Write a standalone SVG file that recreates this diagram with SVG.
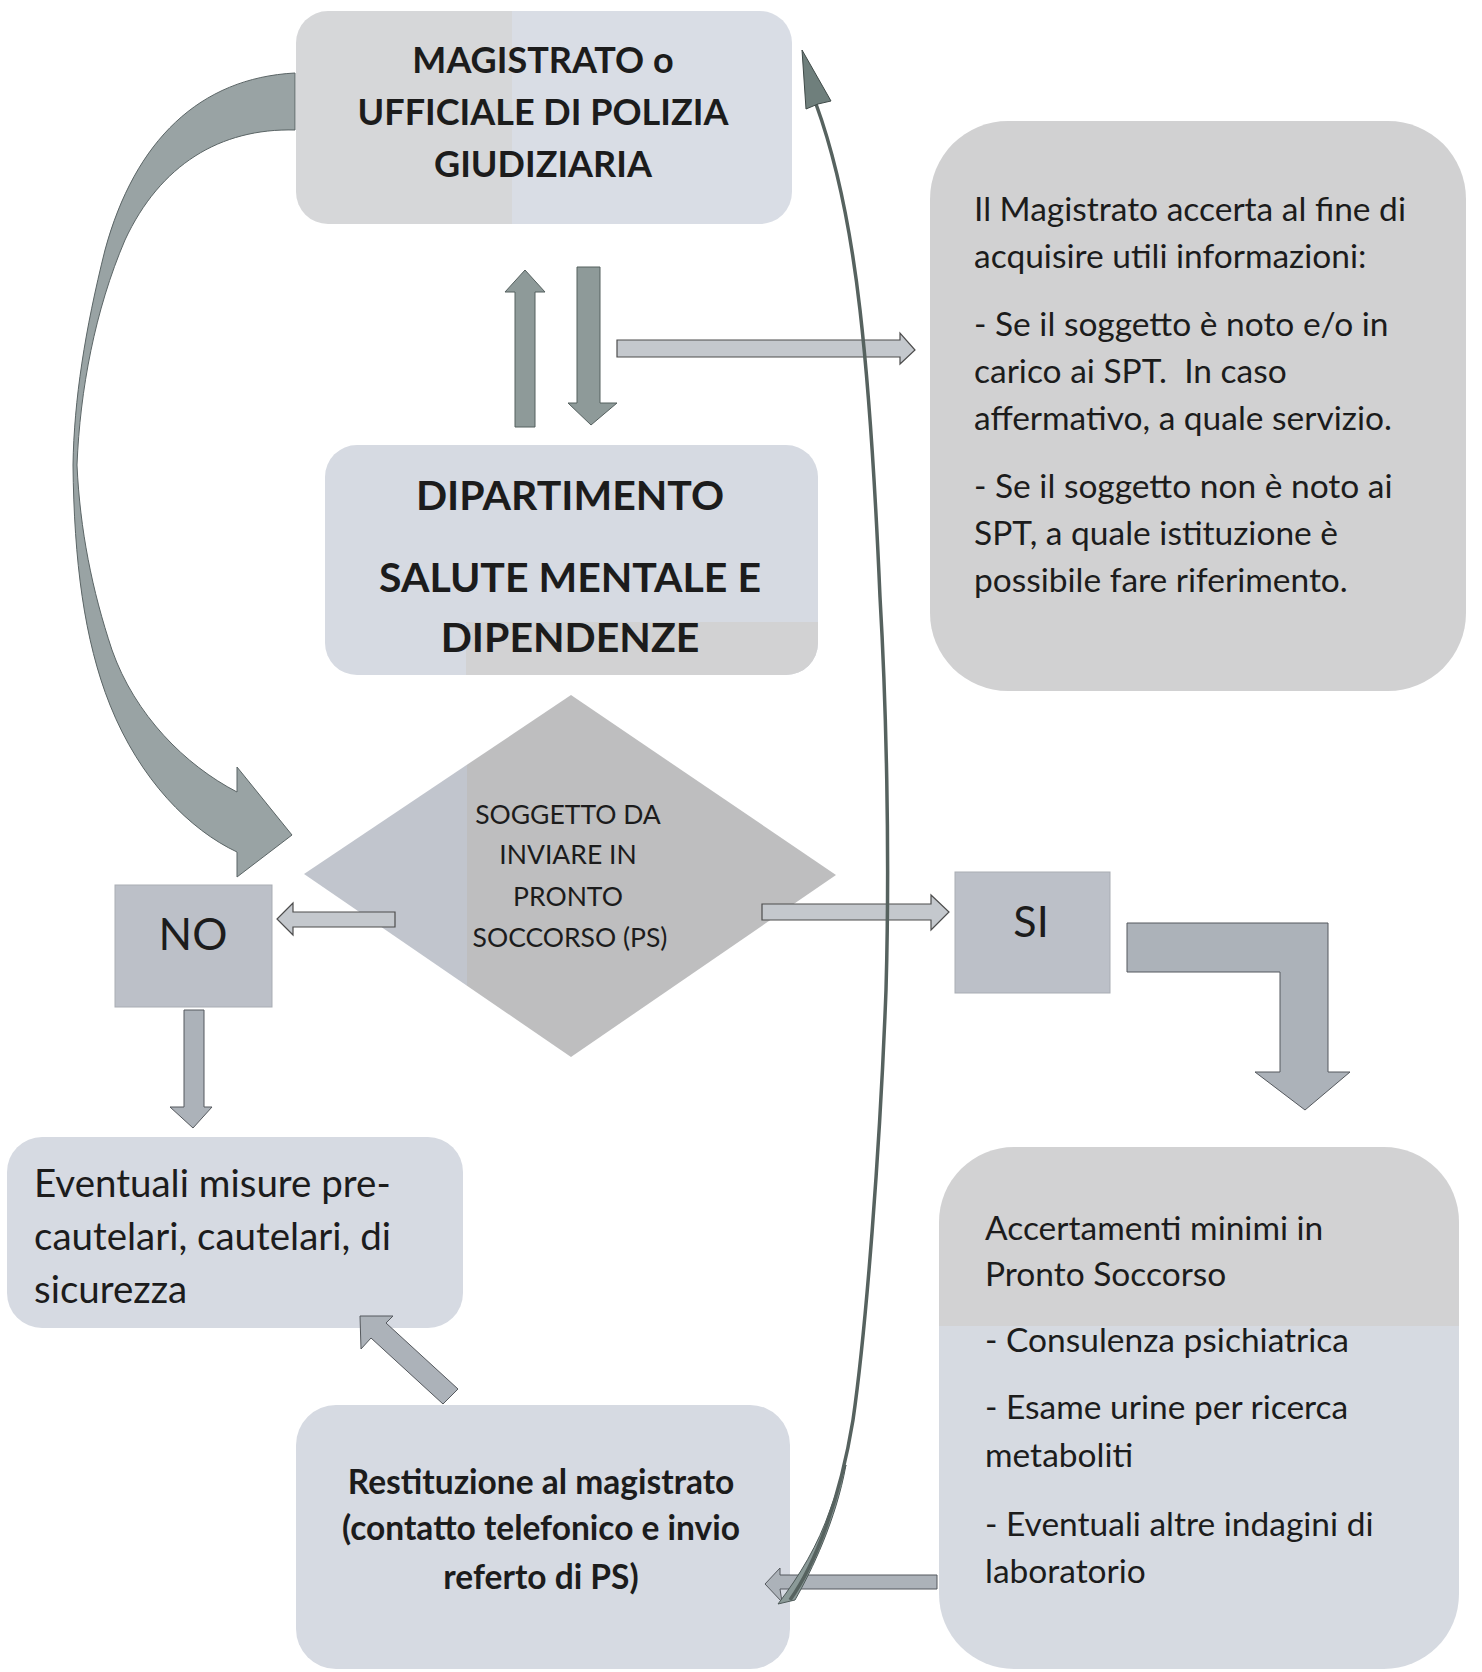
<svg xmlns="http://www.w3.org/2000/svg" width="1482" height="1672" viewBox="0 0 1482 1672">
<defs>
<style>
.t{font-family:Lato,"Open Sans","Liberation Sans",sans-serif;fill:#1c1c1c}
.b{font-weight:bold}
.c{text-anchor:middle}
.box-blue{fill:#d6dae2}
.box-gray{fill:#d1d1d2}
.sq{fill:#bcc0c8;stroke:#a9adb4;stroke-width:1}
.arr-dark{fill:#8e9a99;stroke:#55605f;stroke-width:1}
.arr-light{fill:#c4c8cd;stroke:#4d4d4d;stroke-width:1.2}
.arr-mid{fill:#acb2b9;stroke:#55595e;stroke-width:1}
.curve{fill:#99a3a4;stroke:#5b6566;stroke-width:1}
</style>
<linearGradient id="gMag" gradientUnits="userSpaceOnUse" x1="296" y1="0" x2="792" y2="0">
<stop offset="0" stop-color="#d6d7d9"/><stop offset="0.435" stop-color="#d6d7d9"/><stop offset="0.435" stop-color="#d9dde5"/><stop offset="1" stop-color="#d9dde5"/>
</linearGradient>
<linearGradient id="gDia" gradientUnits="userSpaceOnUse" x1="304" y1="0" x2="836" y2="0">
<stop offset="0" stop-color="#c1c5cd"/><stop offset="0.306" stop-color="#c1c5cd"/><stop offset="0.306" stop-color="#bebebf"/><stop offset="1" stop-color="#bebebf"/>
</linearGradient>
<linearGradient id="gAcc" gradientUnits="userSpaceOnUse" x1="0" y1="1147" x2="0" y2="1670">
<stop offset="0" stop-color="#d2d2d3"/><stop offset="0.342" stop-color="#d2d2d3"/><stop offset="0.342" stop-color="#d6dae1"/><stop offset="1" stop-color="#d6dae1"/>
</linearGradient>
<clipPath id="cDip"><rect x="325" y="445" width="493" height="230" rx="32"/></clipPath>
</defs>
<rect width="1482" height="1672" fill="#ffffff"/>

<g id="node-magistrato">
  <rect x="296" y="11" width="496" height="213" rx="32" fill="url(#gMag)"/>
  <text class="t b c" x="543" y="73" font-size="36">MAGISTRATO o</text>
  <text class="t b c" x="543" y="125" font-size="36">UFFICIALE DI POLIZIA</text>
  <text class="t b c" x="543" y="177" font-size="36">GIUDIZIARIA</text>
</g>

<g id="node-info">
  <rect class="box-gray" x="930" y="121" width="536" height="570" rx="78"/>
  <text class="t" x="974" y="221" font-size="33.5">Il Magistrato accerta al fine di</text>
  <text class="t" x="974" y="268" font-size="33.5">acquisire utili informazioni:</text>
  <text class="t" x="974" y="336" font-size="33.5">- Se il soggetto è noto e/o in</text>
  <text class="t" x="974" y="383" font-size="33.5" xml:space="preserve">carico ai SPT.  In caso</text>
  <text class="t" x="974" y="430" font-size="33.5">affermativo, a quale servizio.</text>
  <text class="t" x="974" y="498" font-size="33.5">- Se il soggetto non è noto ai</text>
  <text class="t" x="974" y="545" font-size="33.5">SPT, a quale istituzione è</text>
  <text class="t" x="974" y="592" font-size="33.5">possibile fare riferimento.</text>
</g>

<g id="node-dipartimento">
  <rect class="box-blue" x="325" y="445" width="493" height="230" rx="32"/>
  <rect x="466" y="622" width="360" height="60" fill="#d2d2d3" clip-path="url(#cDip)"/>
  <text class="t b c" x="570" y="510" font-size="41">DIPARTIMENTO</text>
  <text class="t b c" x="570" y="592" font-size="41">SALUTE MENTALE E</text>
  <text class="t b c" x="570" y="652" font-size="41">DIPENDENZE</text>
</g>

<g id="node-decisione">
  <polygon points="571,695 836,875 571,1057 304,874" fill="url(#gDia)"/>
  <text class="t c" x="568" y="824" font-size="26.5">SOGGETTO DA</text>
  <text class="t c" x="568" y="864" font-size="26.5">INVIARE IN</text>
  <text class="t c" x="568" y="906" font-size="26.5">PRONTO</text>
  <text class="t c" x="570" y="947" font-size="26.5">SOCCORSO (PS)</text>
</g>

<g id="node-no">
  <rect class="sq" x="115" y="885" width="157" height="122"/>
  <text class="t c" x="193" y="950" font-size="44">NO</text>
</g>

<g id="node-si">
  <rect class="sq" x="955" y="872" width="155" height="121"/>
  <text class="t c" x="1031" y="937" font-size="43">SI</text>
</g>

<g id="node-eventuali">
  <rect class="box-blue" x="7" y="1137" width="456" height="191" rx="35"/>
  <text class="t" x="34" y="1197" font-size="38.5">Eventuali misure pre-</text>
  <text class="t" x="34" y="1250" font-size="38.5">cautelari, cautelari, di</text>
  <text class="t" x="34" y="1303" font-size="38.5">sicurezza</text>
</g>

<g id="node-accertamenti">
  <rect x="939" y="1147" width="520" height="522" rx="75" fill="url(#gAcc)"/>
  <text class="t" x="985" y="1240" font-size="33.5">Accertamenti minimi in</text>
  <text class="t" x="985" y="1286" font-size="33.5">Pronto Soccorso</text>
  <text class="t" x="985" y="1352" font-size="33.5">- Consulenza psichiatrica</text>
  <text class="t" x="985" y="1419" font-size="33.5">- Esame urine per ricerca</text>
  <text class="t" x="985" y="1467" font-size="33.5">metaboliti</text>
  <text class="t" x="985" y="1536" font-size="33.5">- Eventuali altre indagini di</text>
  <text class="t" x="985" y="1583" font-size="33.5">laboratorio</text>
</g>

<g id="node-restituzione">
  <rect class="box-blue" x="296" y="1405" width="494" height="264" rx="40"/>
  <text class="t b c" x="541" y="1494" font-size="33.5">Restituzione al magistrato</text>
  <text class="t b c" x="541" y="1540" font-size="33.5">(contatto telefonico e invio</text>
  <text class="t b c" x="541" y="1589" font-size="33.5">referto di PS)</text>
</g>

<g id="connectors">
  <path class="curve" d="M295,73 C200,78 135,140 105,250 C85,330 74,400 73,465 C74,560 84,640 110,705 C140,780 190,830 237,852 L237,877 L292,835 L237,767 L237,792 C185,765 135,715 112,650 C92,590 80,530 77,465 C80,390 95,310 125,240 C160,165 220,128 295,130 Z"/>
  <polygon class="arr-dark" points="515,427 515,292 505,292 525,270 545,292 535,292 535,427"/>
  <polygon class="arr-dark" points="577,267 600,267 600,403 617,403 591,425 568,403 577,403"/>
  <polygon class="arr-light" points="617,340 900,340 900,333 915,350 900,364 900,357 617,357"/>
  <polygon class="arr-light" points="395,912 293,912 293,903 277,919 293,935 293,927 395,927"/>
  <polygon class="arr-light" points="762,904 931,904 931,895 949,912 931,930 931,920 762,920"/>
  <polygon class="arr-mid" points="184,1010 204,1010 204,1107 212,1107 193,1128 170,1107 184,1107"/>
  <polygon class="arr-mid" points="1127,923 1328,923 1328,1072 1350,1072 1305,1110 1255,1072 1280,1072 1280,972 1127,972"/>
  <polygon class="arr-mid" points="360,1316 393,1316 386,1323 458,1389 443,1404 371,1338 361,1349"/>
  <polygon class="arr-mid" points="937,1575 780,1575 780,1568 765,1584 782,1602 780,1589 937,1589"/>
  <path d="M778,1604 C800,1575 818,1545 830,1510 L846,1465 C836,1520 812,1570 795,1600 Z" fill="#8b9a98" stroke="#4f5a59" stroke-width="1"/>
  <path d="M790,1600 C815,1565 840,1500 853,1420 C866,1330 880,1150 886,990 C890,850 886,700 880,597 C875,480 868,380 860,310 C852,240 840,170 816,104" fill="none" stroke="#56625f" stroke-width="3.5"/>
  <path d="M802,50 L831,101 L818,104 L806,109 Z" fill="#6f7f7c" stroke="#3f4a48" stroke-width="1"/>
</g>
</svg>
